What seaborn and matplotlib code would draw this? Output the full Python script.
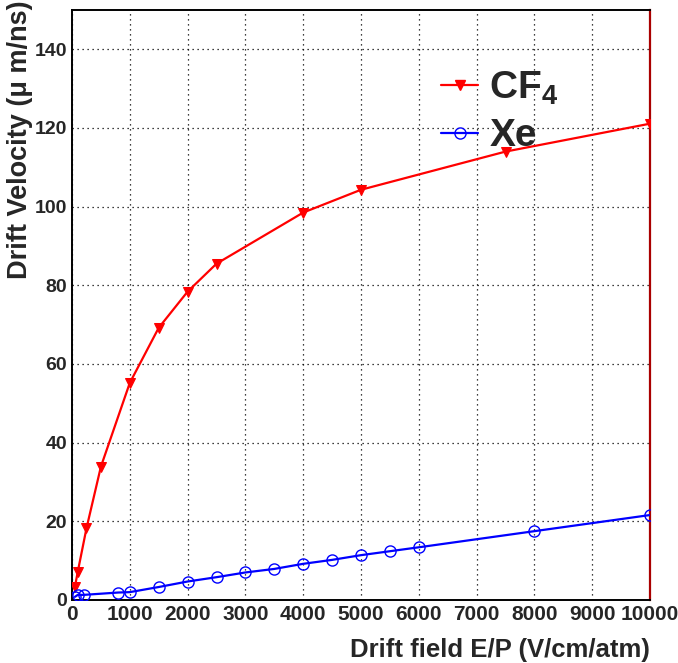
import matplotlib
matplotlib.use('Agg')
import matplotlib.pyplot as plt
from matplotlib.lines import Line2D
from matplotlib.ticker import MultipleLocator
import seaborn as sns

# values
cf4_field = [50, 100, 250, 500, 1000, 1500, 2000, 2500, 4000, 5000, 7500, 10000]
cf4_vel = [3.3, 7.2, 18.2, 33.9, 55.2, 69.2, 78.4, 85.5, 98.5, 104.3, 114.0, 121.1]

xe_field = [50, 100, 200, 800, 1000, 1500, 2000, 2500, 3000, 3500, 4000, 4500,
            5000, 5500, 6000, 8000, 10000]
xe_vel = [0.8, 1.3, 1.3, 1.9, 2.0, 3.3, 4.7, 5.8, 7.0, 7.9, 9.2, 10.2,
          11.4, 12.4, 13.4, 17.5, 21.6]

sns.set_style('white')
plt.rcParams['font.family'] = ['Liberation Sans', 'DejaVu Sans']
plt.rcParams['font.weight'] = 'bold'
plt.rcParams['mathtext.fontset'] = 'custom'
plt.rcParams['mathtext.rm'] = 'Liberation Sans:bold'
plt.rcParams['mathtext.bf'] = 'Liberation Sans:bold'

fig = plt.figure(figsize=(6.78, 6.63), dpi=100)
ax = fig.add_axes([72/678, 1 - 600/663, (650 - 72)/678, (600 - 10)/663])

sns.lineplot(x=cf4_field, y=cf4_vel, ax=ax, color='#ff0000', lw=1.6,
             marker='v', markersize=7, markeredgecolor='#ff0000', zorder=3)
sns.lineplot(x=xe_field, y=xe_vel, ax=ax, color='#0000ff', lw=1.6,
             marker='o', markersize=8, markerfacecolor='none',
             markeredgecolor='#0000ff', markeredgewidth=1.0, zorder=3)

ax.set_xlim(0, 10000)
ax.set_ylim(0, 150)
ax.xaxis.set_major_locator(MultipleLocator(1000))
ax.xaxis.set_minor_locator(MultipleLocator(200))
ax.yaxis.set_major_locator(MultipleLocator(20))
ax.yaxis.set_minor_locator(MultipleLocator(5))
ax.tick_params(which='both', direction='in', top=False, right=False, width=1.2)
ax.tick_params(which='major', length=10)
ax.tick_params(axis='x', which='major', labelsize=15)
ax.tick_params(axis='y', which='major', labelsize=14)
ax.tick_params(which='minor', length=5)
ax.grid(True, which='major', color='black', ls=(0, (1, 3)), lw=0.9)

for s in ['top', 'left', 'bottom']:
    ax.spines[s].set_color('black')
    ax.spines[s].set_linewidth(1.4)
ax.spines['right'].set_color('#aa0000')
ax.spines['right'].set_linewidth(1.6)
for lab in ax.get_xticklabels() + ax.get_yticklabels():
    lab.set_fontweight('bold')

ax.set_xlabel('Drift field E/P (V/cm/atm)', fontsize=18.5, fontweight='bold',
              ha='right')
ax.xaxis.set_label_coords(1.0, -0.065)
ax.set_ylabel('Drift Velocity (μ m/ns)', fontsize=19.5, fontweight='bold',
              ha='right')
ax.yaxis.set_label_coords(-0.068, 1.017)

handles = [
    Line2D([], [], color='#ff0000', lw=1.6, marker='v', markersize=7),
    Line2D([], [], color='#0000ff', lw=1.6, marker='o', markersize=8,
           markerfacecolor='none', markeredgewidth=1.0),
]
leg = fig.legend(handles, ['CF$_4$', 'Xe'], loc='upper left',
                 bbox_to_anchor=(422/678, 1 - 50/663), frameon=False,
                 fontsize=28, handlelength=0.95, handletextpad=0.28,
                 labelspacing=0.3, borderpad=0)
for t in leg.get_texts():
    t.set_fontweight('bold')

fig.savefig('out.png', dpi=100)
